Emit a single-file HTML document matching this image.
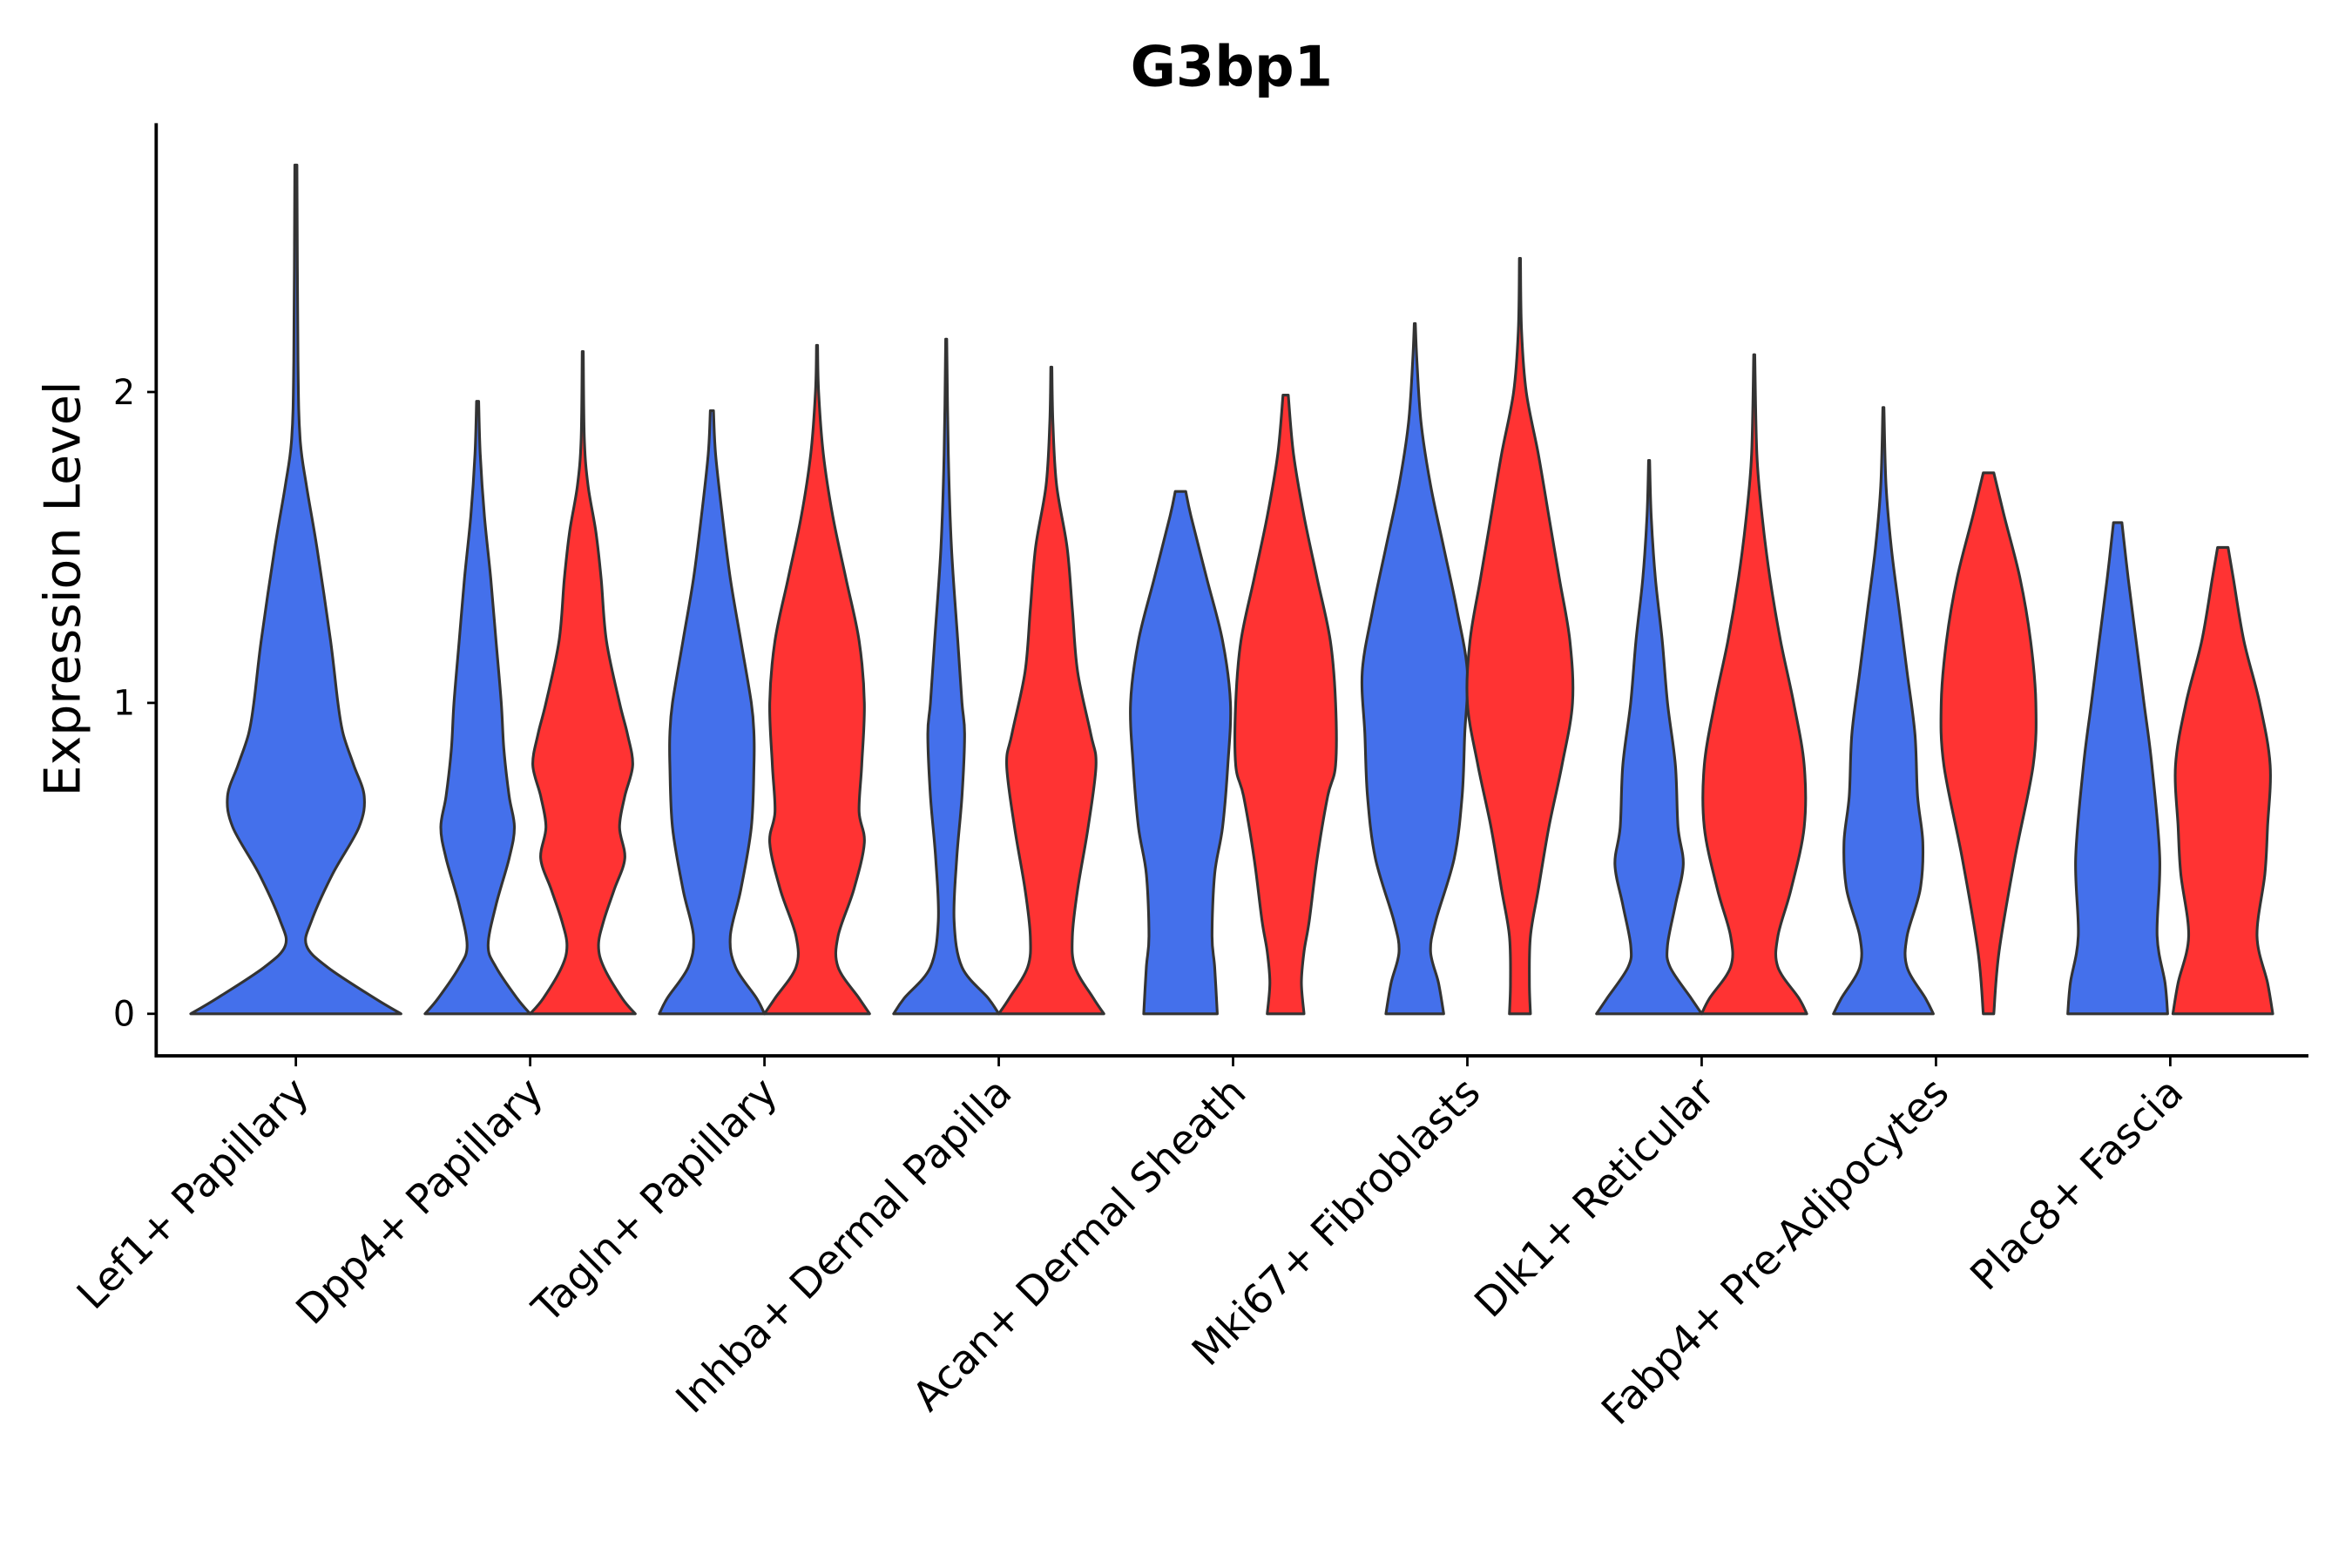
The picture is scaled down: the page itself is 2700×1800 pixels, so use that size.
<!DOCTYPE html>
<html><head><meta charset="utf-8"><style>
html,body{margin:0;padding:0;background:#fff;}
svg{display:block;}
text{font-family:"DejaVu Sans","Liberation Sans",sans-serif;fill:#000;}
</style></head><body>
<svg id="chart" width="2700" height="1800" viewBox="0 0 1566 1044" xmlns="http://www.w3.org/2000/svg">
<rect width="1566" height="1044" fill="#fff"/>
<text x="820" y="57" text-anchor="middle" font-size="37" font-weight="bold">G3bp1</text>
<text transform="translate(53,392) rotate(-90)" text-anchor="middle" font-size="33">Expression Level</text>
<g id="plot"></g>
</svg>
<script>
const categories = ["Lef1+ Papillary","Dpp4+ Papillary","Tagln+ Papillary","Inhba+ Dermal Papilla","Acan+ Dermal Sheath","Mki67+ Fibroblasts","Dlk1+ Reticular","Fabp4+ Pre-Adipocytes","Plac8+ Fascia"];
const yTicks = [0,1,2];
const yTickLabels = ["0","1","2"];
// each profile: [expression value, relative half-width]
const blueProfiles = [
 [[0,1],[0.05,0.75],[0.15,0.3],[0.22,0.1],[0.3,0.15],[0.45,0.35],[0.6,0.6],[0.7,0.65],[0.8,0.55],[0.9,0.45],[1.0,0.4],[1.2,0.33],[1.5,0.2],[1.7,0.1],[1.85,0.04],[2.1,0.02],[2.73,0.01]],
 [[0,1],[0.05,0.75],[0.15,0.35],[0.22,0.2],[0.35,0.35],[0.5,0.6],[0.6,0.7],[0.7,0.6],[0.85,0.5],[1.0,0.45],[1.2,0.35],[1.4,0.25],[1.6,0.13],[1.8,0.05],[1.97,0.02]],
 [[0,1],[0.05,0.85],[0.15,0.45],[0.25,0.35],[0.4,0.55],[0.6,0.75],[0.8,0.8],[0.9,0.8],[1.0,0.75],[1.2,0.55],[1.4,0.35],[1.6,0.2],[1.8,0.07],[1.94,0.03]],
 [[0,1],[0.05,0.8],[0.15,0.3],[0.3,0.15],[0.5,0.2],[0.7,0.3],[0.9,0.35],[1.0,0.3],[1.2,0.22],[1.5,0.1],[1.8,0.04],[2.17,0.01]],
 [[0,0.7],[0.15,0.65],[0.25,0.6],[0.45,0.65],[0.6,0.8],[0.8,0.9],[1.0,0.95],[1.2,0.8],[1.4,0.5],[1.6,0.2],[1.68,0.1]],
 [[0,0.55],[0.1,0.45],[0.2,0.3],[0.3,0.4],[0.5,0.75],[0.7,0.9],[0.9,0.95],[1.1,1.0],[1.3,0.8],[1.5,0.55],[1.7,0.3],[1.9,0.12],[2.1,0.04],[2.22,0.01]],
 [[0,1],[0.05,0.8],[0.15,0.4],[0.22,0.35],[0.35,0.5],[0.48,0.65],[0.6,0.55],[0.8,0.5],[1.0,0.35],[1.2,0.25],[1.4,0.12],[1.6,0.04],[1.78,0.01]],
 [[0,0.95],[0.05,0.8],[0.15,0.45],[0.25,0.45],[0.4,0.7],[0.55,0.75],[0.7,0.65],[0.9,0.6],[1.1,0.45],[1.3,0.3],[1.5,0.15],[1.7,0.05],[1.95,0.01]],
 [[0,0.95],[0.1,0.9],[0.25,0.75],[0.5,0.8],[0.8,0.65],[1.0,0.5],[1.2,0.35],[1.4,0.2],[1.58,0.08]]
];
const redProfiles = [
 null,
 [[0,1],[0.05,0.75],[0.15,0.4],[0.22,0.3],[0.3,0.4],[0.4,0.6],[0.5,0.8],[0.6,0.7],[0.7,0.8],[0.8,0.95],[0.9,0.85],[1.0,0.7],[1.2,0.45],[1.4,0.35],[1.55,0.25],[1.7,0.1],[1.85,0.03],[2.13,0.01]],
 [[0,1],[0.05,0.8],[0.15,0.4],[0.25,0.4],[0.4,0.7],[0.55,0.9],[0.65,0.8],[0.8,0.85],[1.0,0.9],[1.2,0.8],[1.4,0.55],[1.6,0.3],[1.8,0.12],[2.0,0.03],[2.15,0.01]],
 [[0,1],[0.05,0.8],[0.15,0.45],[0.25,0.4],[0.4,0.5],[0.6,0.7],[0.8,0.85],[0.9,0.75],[1.1,0.5],[1.3,0.4],[1.5,0.3],[1.7,0.1],[1.9,0.03],[2.08,0.01]],
 [[0,0.35],[0.1,0.3],[0.2,0.35],[0.3,0.45],[0.5,0.6],[0.7,0.8],[0.8,0.95],[1.0,0.95],[1.2,0.85],[1.4,0.6],[1.6,0.35],[1.8,0.15],[1.99,0.05]],
 [[0,0.2],[0.1,0.18],[0.25,0.2],[0.4,0.35],[0.6,0.55],[0.8,0.8],[1.0,1.0],[1.2,0.95],[1.4,0.75],[1.6,0.55],[1.8,0.35],[2.0,0.12],[2.2,0.03],[2.43,0.01]],
 [[0,1],[0.05,0.85],[0.15,0.45],[0.25,0.45],[0.4,0.7],[0.6,0.95],[0.8,0.95],[1.0,0.75],[1.2,0.5],[1.4,0.3],[1.6,0.15],[1.8,0.05],[2.12,0.01]],
 [[0,0.1],[0.2,0.2],[0.5,0.5],[0.8,0.85],[1.0,0.9],[1.2,0.8],[1.4,0.6],[1.6,0.3],[1.74,0.1]],
 [[0,0.95],[0.1,0.85],[0.25,0.65],[0.45,0.8],[0.6,0.85],[0.8,0.9],[1.0,0.7],[1.2,0.4],[1.4,0.2],[1.5,0.1]]
];

const NS = "http://www.w3.org/2000/svg";
const plot = document.getElementById('plot');
const X0 = 104, X1 = 1537, YTOP = 82, YBOT = 703;
const catStart = 197, catStep = 156;
function xScale(i){ return catStart + i*catStep; }
function yScale(v){ return 675 - v*207; }

function mk(tag, attrs){ const e = document.createElementNS(NS, tag); for (const k in attrs) e.setAttribute(k, attrs[k]); return e; }

function smoothPath(pts){
  let d = "";
  for (let i=0;i<pts.length-1;i++){
    const p0 = pts[Math.max(0,i-1)], p1 = pts[i], p2 = pts[i+1], p3 = pts[Math.min(pts.length-1,i+2)];
    const c1x = p1[0] + (p2[0]-p0[0])/6, c1y = p1[1] + (p2[1]-p0[1])/6;
    const c2x = p2[0] - (p3[0]-p1[0])/6, c2y = p2[1] - (p3[1]-p1[1])/6;
    d += " C"+c1x.toFixed(2)+","+c1y.toFixed(2)+" "+c2x.toFixed(2)+","+c2y.toFixed(2)+" "+p2[0].toFixed(2)+","+p2[1].toFixed(2);
  }
  return d;
}
function drawViolin(profile, cx, hw, color, name){
  const right = profile.map(p => [cx + p[1]*hw, yScale(p[0])]);
  const left = profile.slice().reverse().map(p => [cx - p[1]*hw, yScale(p[0])]);
  let d = "M"+right[0][0].toFixed(2)+","+right[0][1].toFixed(2) + smoothPath(right);
  d += " L"+left[0][0].toFixed(2)+","+left[0][1].toFixed(2) + smoothPath(left) + " Z";
  const p = mk('path', {d:d, fill:color, stroke:'#333333', 'stroke-width':1.8, 'stroke-linejoin':'round'});
  
  
  plot.appendChild(p);
}

categories.forEach((c,i)=>{
  const cx = xScale(i);
  const slug = c.toLowerCase().replace(/[^a-z0-9]+/g,'-').replace(/-+$/,'');
  if (redProfiles[i]) {
    drawViolin(blueProfiles[i], cx-35, 35, '#4470EB', 'violin-blue-'+slug);
    drawViolin(redProfiles[i], cx+35, 35, '#FF3333', 'violin-red-'+slug);
  } else {
    drawViolin(blueProfiles[i], cx, 70, '#4470EB', 'violin-blue-'+slug);
  }
});

const yAxis = mk('line', {x1:X0, y1:YTOP, x2:X0, y2:YBOT+1, stroke:'#000', 'stroke-width':2.2});


plot.appendChild(yAxis);
const xAxis = mk('line', {x1:X0-1, y1:YBOT, x2:X1, y2:YBOT, stroke:'#000', 'stroke-width':2.2});


plot.appendChild(xAxis);

yTicks.forEach((t,i)=>{
  const y = yScale(t);
  const tk = mk('line', {x1:X0-6, y1:y, x2:X0, y2:y, stroke:'#000', 'stroke-width':1.6});
  
  
  plot.appendChild(tk);
  const tx = mk('text', {x:X0-14, y:y+8, 'text-anchor':'end', 'font-size':23});
  tx.textContent = yTickLabels[i];
  
  
  plot.appendChild(tx);
});

categories.forEach((c,i)=>{
  const x = xScale(i);
  const tk = mk('line', {x1:x, y1:YBOT, x2:x, y2:YBOT+7, stroke:'#000', 'stroke-width':1.6});
  
  
  plot.appendChild(tk);
  const tx = mk('text', {transform:'translate('+(x+10)+','+(YBOT+26)+') rotate(-45)', 'text-anchor':'end', 'font-size':27});
  tx.textContent = c;
  
  
  plot.appendChild(tx);
});
</script>
</body></html>
